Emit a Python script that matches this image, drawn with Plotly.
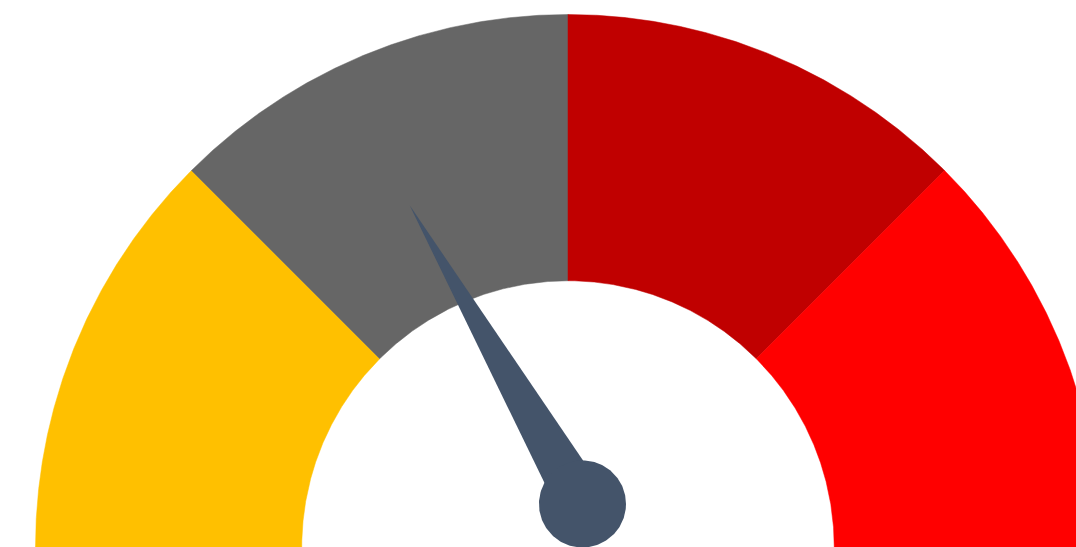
import numpy as np
import plotly.graph_objects as go

# ---- data ----
segment_bounds = [0, 25, 50, 75, 100]
segment_colors = ["#FFC000", "#666666", "#C00000", "#FF0000"]
gauge_value = 33.3
gauge_min, gauge_max = 0, 100

# ---- geometry (units: outer radius = 1) ----
R_OUT, R_IN = 1.0, 0.5
NEEDLE_CX, NEEDLE_CY = 0.0272, 0.0808
NEEDLE_LEN = 0.648
NEEDLE_HALF_W = 0.047
NEEDLE_HUB_R = 0.0817
NEEDLE_COLOR = "#44546A"


def val_to_angle(v):
    return np.pi * (1 - (v - gauge_min) / (gauge_max - gauge_min))


fig = go.Figure()

for i in range(len(segment_bounds) - 1):
    a0 = val_to_angle(segment_bounds[i])
    a1 = val_to_angle(segment_bounds[i + 1])
    t = np.linspace(a0, a1, 300)
    xs = np.concatenate([R_OUT * np.cos(t), R_IN * np.cos(t[::-1]), [R_OUT * np.cos(t[0])]])
    ys = np.concatenate([R_OUT * np.sin(t), R_IN * np.sin(t[::-1]), [R_OUT * np.sin(t[0])]])
    fig.add_trace(go.Scatter(x=xs, y=ys, mode="lines", fill="toself",
                             fillcolor=segment_colors[i],
                             line=dict(width=0.5, color=segment_colors[i]),
                             hoverinfo="skip", showlegend=False))

# needle
ang = val_to_angle(gauge_value)
d = np.array([np.cos(ang), np.sin(ang)])
p = np.array([-d[1], d[0]])
c = np.array([NEEDLE_CX, NEEDLE_CY])
tip = c + NEEDLE_LEN * d
b1 = c + NEEDLE_HALF_W * p
b2 = c - NEEDLE_HALF_W * p
fig.add_trace(go.Scatter(x=[b1[0], tip[0], b2[0], b1[0]], y=[b1[1], tip[1], b2[1], b1[1]],
                         mode="lines", fill="toself", fillcolor=NEEDLE_COLOR,
                         line=dict(width=0, color=NEEDLE_COLOR),
                         hoverinfo="skip", showlegend=False))
th = np.linspace(0, 2 * np.pi, 200)
fig.add_trace(go.Scatter(x=NEEDLE_CX + NEEDLE_HUB_R * np.cos(th), y=NEEDLE_CY + NEEDLE_HUB_R * np.sin(th),
                         mode="lines", fill="toself", fillcolor=NEEDLE_COLOR,
                         line=dict(width=0, color=NEEDLE_COLOR),
                         hoverinfo="skip", showlegend=False))

W, H = 1076, 547
scale = 532.5
cx_px, cy_px = 568, 547
fig.update_layout(
    width=W, height=H, autosize=False,
    margin=dict(l=0, r=0, t=0, b=0),
    paper_bgcolor="white", plot_bgcolor="white",
    xaxis=dict(range=[(0 - cx_px) / scale, (W - cx_px) / scale], visible=False, fixedrange=True),
    yaxis=dict(range=[(cy_px - H) / scale, cy_px / scale], visible=False, fixedrange=True),
    showlegend=False,
)

fig.write_html("out.html", config={"displayModeBar": False})
